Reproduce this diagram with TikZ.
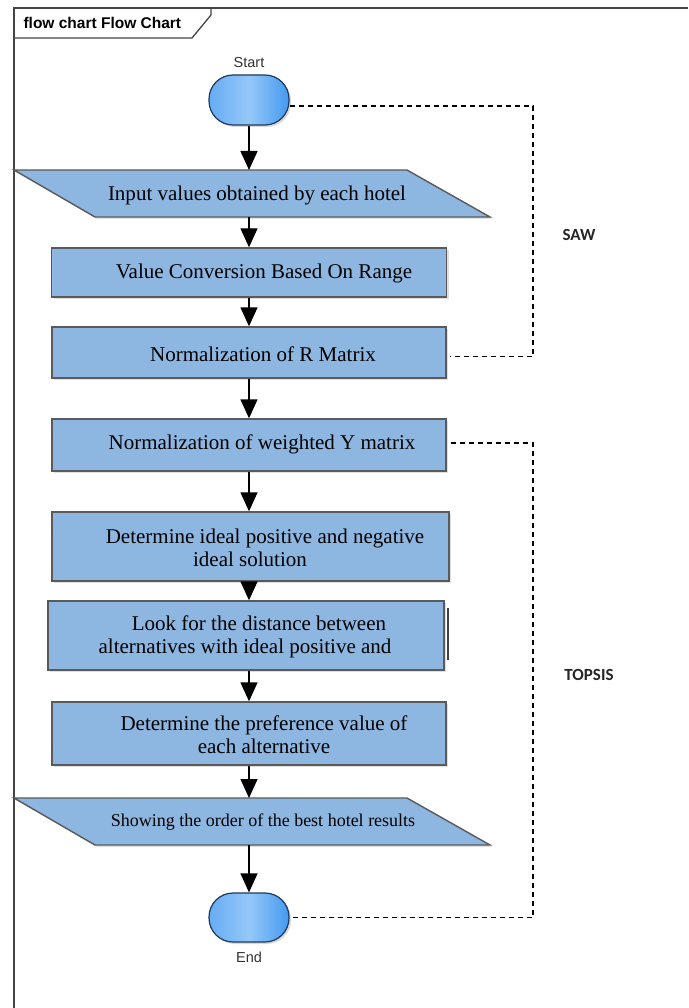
\documentclass[tikz,border=0pt]{standalone}
\usepackage{fontspec}
\setmainfont{Liberation Serif}
\newfontfamily\arialf{Liberation Sans}
\newfontfamily\calf{Carlito}
\usetikzlibrary{arrows.meta,shadows}
\definecolor{boxfill}{HTML}{8DB6E1}
\definecolor{boxline}{HTML}{5A5A5A}
\definecolor{termline}{HTML}{1F3A5A}
\definecolor{termL}{HTML}{66ACF4}
\definecolor{termM}{HTML}{95C8F8}
\definecolor{termR}{HTML}{4499F0}
\definecolor{framec}{HTML}{444444}
\begin{document}
\begin{tikzpicture}[x=1pt,y=-1pt,
  procbox/.style={draw=boxline, line width=1.4pt, fill=boxfill, inner sep=0pt,
    drop shadow={shadow xshift=2pt,shadow yshift=-2pt,opacity=0.25}},
  para/.style={draw=boxline, line width=1.4pt, fill=boxfill,
    drop shadow={shadow xshift=2pt,shadow yshift=-2pt,opacity=0.25}},
  boxtext/.style={font=\fontsize{21}{23}\selectfont, align=center, inner sep=0pt},
  term/.style={draw=termline, line width=1.2pt, rounded corners=24pt,
    minimum width=80pt, minimum height=50pt, inner sep=0pt,
    left color=termL, right color=termR, middle color=termM,
    drop shadow={shadow xshift=2pt,shadow yshift=-2pt,opacity=0.3}},
  termlabel/.style={font=\arialf\fontsize{14.5}{16}\selectfont, text=black!80},
  grouplabel/.style={font=\calf\bfseries\fontsize{17}{19}\selectfont, text=black!85},
  arr/.style={-{Triangle[width=17pt,length=19pt]}, line width=1.4pt},
  dashline/.style={dash pattern=on 5pt off 4pt, line width=1.2pt}]
\useasboundingbox (0,0) rectangle (688,1008);
\fill[white] (0,0) rectangle (688,1008);
% frame
\draw[framec, line width=1.5pt] (14,1008) -- (14,8) -- (688,8);
\draw[framec, line width=1.3pt] (14,38) -- (192,38) -- (211,15) -- (211,8);
\node[anchor=west, font=\arialf\bfseries\fontsize{15.5}{17}\selectfont] (title) at (20,23) {flow chart Flow Chart};
% start
\node[term] (start) at (249,100) {};
\node[termlabel] (startlbl) at (249,63) {Start};
% input
\draw[para] (14,170) -- (407,170) -- (490,217) -- (95,217) -- cycle;
\coordinate (inpTop) at (249,170);
\coordinate (inpBot) at (249,217);
\node[boxtext] (inp) at (257,195) {Input values obtained by each hotel};
% boxes
\node[procbox, minimum width=395pt, minimum height=49pt] (val) at (249,272.5) {};
\node[boxtext] (valt) at (264,273) {Value Conversion Based On Range};
\node[procbox, minimum width=394pt, minimum height=51pt] (rmat) at (249,352.5) {};
\node[boxtext] (rmatt) at (263,354) {Normalization of R Matrix};
\node[procbox, minimum width=394pt, minimum height=52pt] (ymat) at (249,445) {};
\node[boxtext] (ymatt) at (262,444) {Normalization of weighted Y matrix};
\node[procbox, minimum width=397pt, minimum height=69pt] (ideal) at (250.5,546.5) {};
\node[boxtext] (idealt) at (265,548) {Determine ideal positive and negative\\ideal solution\hspace*{30pt}};
\node[procbox, minimum width=396pt, minimum height=69pt] (dist) at (246,635.5) {};
\draw[black!75, line width=2pt] ([xshift=3pt,yshift=-8pt]dist.north east) -- ([xshift=3pt,yshift=11pt]dist.south east);
\node[boxtext] (distt) at (259,637) {Look for the distance between\\alternatives with ideal positive and\hspace*{28pt}};
\node[procbox, minimum width=394pt, minimum height=63pt] (pref) at (249,733.5) {};
\node[boxtext] (preft) at (264,735) {Determine the preference value of\\each alternative};
% output
\draw[para] (14,798) -- (407,798) -- (490,845) -- (95,845) -- cycle;
\coordinate (outTop) at (249,798);
\coordinate (outBot) at (249,845);
\node[font=\fontsize{18}{20}\selectfont, inner sep=0pt] (out) at (263,822) {Showing the order of the best hotel results};
% end
\node[term, minimum height=49pt] (end) at (249,917.5) {};
\node[termlabel] (endlbl) at (249,957) {End};
% arrows
\draw[arr] (start.south) -- (inpTop);
\draw[arr] (inpBot) -- (val.north);
\draw[arr] (val.south) -- (val.south |- rmat.north);
\draw[arr] (rmat.south) -- (rmat.south |- ymat.north);
\draw[arr] (ymat.south) -- (ymat.south |- ideal.north);
\draw[arr] (ideal.south -| ymat.south) -- (ymat.south |- dist.north);
\draw[arr] (ymat.south |- dist.south) -- (ymat.south |- pref.north);
\draw[arr] (pref.south) -- (outTop);
\draw[arr] (outBot) -- (end.north);
% dashed groups
\coordinate (sawx) at (533,0);
\coordinate (startd) at ([yshift=-6pt]start.east);
\coordinate (rmatd) at ([xshift=3pt,yshift=-4pt]rmat.east);
\coordinate (ymatd) at ([xshift=4pt,yshift=2pt]ymat.east);
\draw[dashline] (startd) -| (sawx |- rmatd) -- (rmatd);
\draw[dashline] (ymatd) -| (sawx |- end.east) -- (end.east);
\node[grouplabel] (saw) at (579,235) {SAW};
\node[grouplabel] (topsis) at (589,675) {TOPSIS};
\end{tikzpicture}
\end{document}
